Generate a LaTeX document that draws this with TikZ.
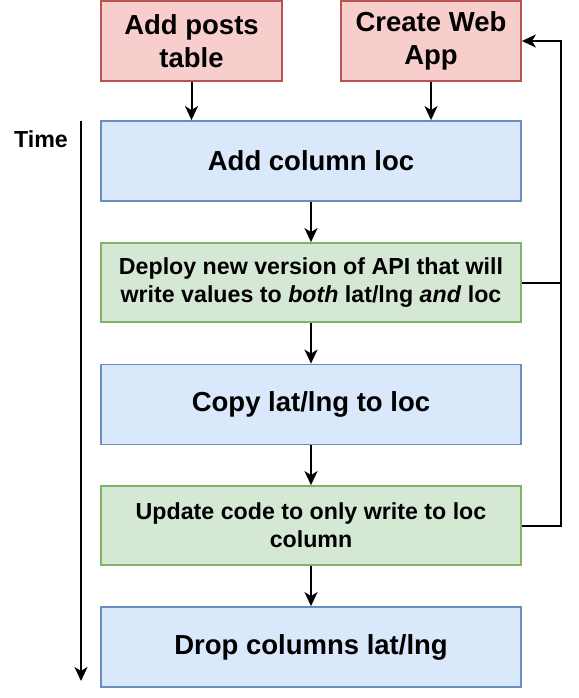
\documentclass[tikz,border=0pt]{standalone}
\usepackage{fontspec}
\setmainfont{Liberation Sans}
\usetikzlibrary{arrows.meta}
\definecolor{redfill}{HTML}{F8CECC}
\definecolor{redline}{HTML}{B85450}
\definecolor{bluefill}{HTML}{DAE8FC}
\definecolor{blueline}{HTML}{6C8EBF}
\definecolor{greenfill}{HTML}{D5E8D4}
\definecolor{greenline}{HTML}{82B366}
\tikzset{
  boxbase/.style={draw, line width=1.8pt, inner sep=0pt, align=center, font=\bfseries},
  bigtext/.style={font=\fontsize{27.5}{33}\selectfont\bfseries},
  smalltext/.style={font=\fontsize{23.2}{28}\selectfont\bfseries},
  redbox/.style={boxbase, bigtext, fill=redfill, draw=redline, minimum width=181pt, minimum height=80pt},
  webbox/.style={boxbase, bigtext, fill=redfill, draw=redline, minimum width=180pt, minimum height=80pt},
  bluebox/.style={boxbase, bigtext, fill=bluefill, draw=blueline, minimum width=420pt, minimum height=80pt},
  greenbox/.style={boxbase, smalltext, fill=greenfill, draw=greenline, minimum width=420pt, minimum height=79pt},
  conn/.style={line width=2pt, -{Stealth[length=14pt, width=13pt, inset=4pt]}},
  plainline/.style={line width=2pt}
}
\begin{document}
\begin{tikzpicture}[x=1pt, y=-1pt]
\useasboundingbox (0,0) rectangle (578,698);
\node[redbox] (posts) at (191.5,41) {Add posts\\table};
\node[webbox] (webapp) at (431,41) {Create Web\\App};
\node[bluebox] (addcol) at (311,161) {Add column loc};
\node[greenbox] (deploy) at (311,282.5) {Deploy new version of API that will\\write values to \textit{both} lat/lng \textit{and} loc};
\node[bluebox] (copy) at (311,404.5) {Copy lat/lng to loc};
\node[greenbox] (update) at (311,525.5) {Update code to only write to loc\\column};
\node[bluebox] (drop) at (311,647) {Drop columns lat/lng};
\node[smalltext, inner sep=0pt] (time) at (41,139) {Time};
\coordinate (t1) at (81,121);
\coordinate (t2) at (81,681);
\coordinate (loop) at (561,41);
\draw[conn] (posts.south) -- (posts.south |- addcol.north);
\draw[conn] (webapp.south) -- (webapp.south |- addcol.north);
\draw[conn] (addcol) -- (deploy);
\draw[conn] (deploy) -- (copy);
\draw[conn] (copy) -- (update);
\draw[conn] (update) -- (drop);
\draw[plainline] (deploy.east) -- (deploy.east -| loop);
\draw[conn] (update.east) -- (update.east -| loop) -- (loop) -- (webapp.east);
\draw[conn] (t1) -- (t2);
\end{tikzpicture}
\end{document}
